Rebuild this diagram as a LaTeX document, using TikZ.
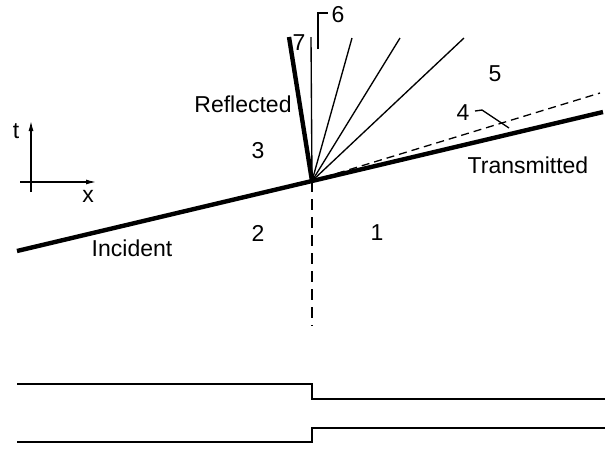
\documentclass[tikz,border=0pt]{standalone}
\usepackage{fontspec}
\setmainfont{Liberation Sans}
\usetikzlibrary{arrows.meta}
\begin{document}
\begin{tikzpicture}[x=1pt,y=-1pt,
  lbl/.style={inner sep=0pt,font=\fontsize{23}{27}\selectfont},
  heavy/.style={line width=4.4pt},
  ray/.style={line width=1.35pt},
  dashline/.style={line width=1.3pt,dash pattern=on 8pt off 5pt},
  vdash/.style={line width=1.5pt,dash pattern=on 11pt off 7pt},
  profile/.style={line width=1.6pt},
  axis/.style={line width=1.2pt,-{Latex[length=10pt,width=5pt]}}]
\useasboundingbox (0,0) rectangle (611,451);
% key points
\coordinate (O) at (312,181);
\coordinate (inc) at (17,251);
\coordinate (tra) at (603,112);
\coordinate (ref) at (289,37);
\coordinate (v) at (311,37);
\coordinate (f1) at (352,38);
\coordinate (f2) at (400,38);
\coordinate (f3) at (464,38);
\coordinate (d4) at (600,93);
\coordinate (dv) at (312,326);
% fan and contact lines
\draw[ray] (O) -- (v);
\draw[ray] (O) -- (f1);
\draw[ray] (O) -- (f2);
\draw[ray] (O) -- (f3);
\draw[dashline] (O) -- (d4);
\draw[vdash] (O) -- (dv);
% heavy waves
\draw[heavy] (inc) -- (O) -- (tra);
\draw[heavy] (O) -- (ref);
% labels
\node[lbl] (l7) at (299,43) {7};
\node[lbl] (l6) at (338,15) {6};
\coordinate (l6a) at (318,49);
\coordinate (l6b) at (318,13);
\coordinate (l6c) at (328,13);
\draw[ray] (l6a) -- (l6b) -- (l6c);
\node[lbl] (l5) at (495,74) {5};
\node[lbl] (l4) at (463,113) {4};
\coordinate (l4a) at (475,111);
\coordinate (l4b) at (482,110);
\coordinate (l4c) at (509,128);
\draw[ray] (l4a) -- (l4b) -- (l4c);
\node[lbl] (l3) at (258,151) {3};
\node[lbl] (l2) at (258,233) {2};
\node[lbl] (l1) at (377,233) {1};
\node[lbl] (tref) at (243,104) {Reflected};
\node[lbl] (ttra) at (528,165) {Transmitted};
\node[lbl] (tinc) at (132,248) {Incident};
% axes
\coordinate (axt) at (31,121);
\coordinate (axx) at (96,182);
\coordinate (axb) at (31,192);
\coordinate (axl) at (20,182);
\draw[axis] (axb) -- (axt);
\draw[axis] (axl) -- (axx);
\node[lbl] (lt) at (16,131) {t};
\node[lbl] (lx) at (88,196) {x};
% profiles
\coordinate (p1) at (17,384);
\coordinate (p2) at (312,384);
\coordinate (p3) at (312,399);
\coordinate (p4) at (605,399);
\draw[profile] (p1) -- (p2) -- (p3) -- (p4);
\coordinate (q1) at (17,442);
\coordinate (q2) at (312,442);
\coordinate (q3) at (312,428);
\coordinate (q4) at (605,428);
\draw[profile] (q1) -- (q2) -- (q3) -- (q4);
\end{tikzpicture}
\end{document}
